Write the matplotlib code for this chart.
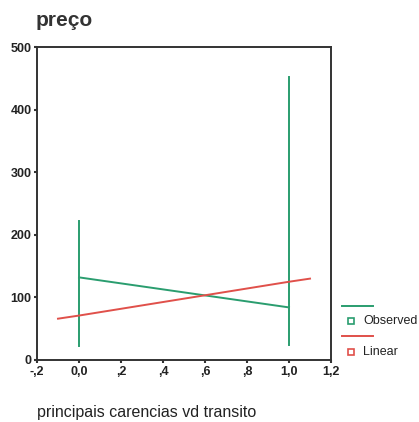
import matplotlib

matplotlib.use("Agg")
import matplotlib.pyplot as plt
from matplotlib.lines import Line2D

# Observed: per-group min, max and mean of preço
obs_x = [0.0, 1.0]
obs_min = [22, 24]
obs_max = [222, 452]
obs_mean = [132, 84]

# Linear fit line
lin_x = [-0.1, 0.0, 1.0, 1.1]
lin_y = [66, 71, 125, 130]

x_ticks = [-0.2, 0.0, 0.2, 0.4, 0.6, 0.8, 1.0, 1.2]
x_tick_labels = ["-,2", "0,0", ",2", ",4", ",6", ",8", "1,0", "1,2"]
y_ticks = [0, 100, 200, 300, 400, 500]

GREEN = "#2a9d6f"
RED = "#e0504a"
W, H = 419, 422

plt.rcParams["font.family"] = ["Liberation Sans", "DejaVu Sans"]

fig = plt.figure(figsize=(W / 100, H / 100), dpi=100)
ax = fig.add_axes([37 / W, 1 - 360 / H, (331 - 37) / W, (360 - 47) / H])

for x, lo, hi in zip(obs_x, obs_min, obs_max):
    ax.plot([x, x], [lo, hi], color=GREEN, lw=1.4)
ax.plot(obs_x, obs_mean, color=GREEN, lw=1.4)
ax.plot(lin_x, lin_y, color=RED, lw=1.4)

ax.set_xlim(-0.2, 1.2)
ax.set_ylim(0, 500)
ax.set_xticks(x_ticks)
ax.set_xticklabels(x_tick_labels)
ax.set_yticks(y_ticks)
for s in ax.spines.values():
    s.set_color("#333333")
    s.set_linewidth(1.4)
ax.tick_params(direction="out", length=2.5, width=1.5, color="#333333",
               labelsize=9, pad=1.5, labelcolor="#222222")
for lbl in ax.get_xticklabels() + ax.get_yticklabels():
    lbl.set_fontweight("bold")

fig.text(36 / W, 1 - 26 / H, "preço", fontsize=15, fontweight="bold",
         color="#333333", va="baseline", ha="left")
fig.text(37 / W, 1 - 412 / H, "principais carencias vd transito", fontsize=11.5,
         color="#222222", va="center", ha="left")

# Legend drawn outside the plot area
legend_rows = [(GREEN, 306, 321, "Observed"), (RED, 336, 352, "Linear")]
for colour, line_y, text_y, label in legend_rows:
    fig.add_artist(Line2D([342 / W, 373 / W], [1 - line_y / H, 1 - line_y / H],
                          transform=fig.transFigure, color=colour, lw=1.4))
    fig.add_artist(Line2D([351 / W], [1 - text_y / H], transform=fig.transFigure,
                          marker="s", markersize=4, markerfacecolor="white",
                          markeredgecolor=colour, markeredgewidth=1.2, ls="none"))
    fig.text(363 / W, 1 - text_y / H, label, fontsize=9, color="#222222",
             va="center", ha="left")

fig.savefig("out.png", dpi=100, facecolor="white")
